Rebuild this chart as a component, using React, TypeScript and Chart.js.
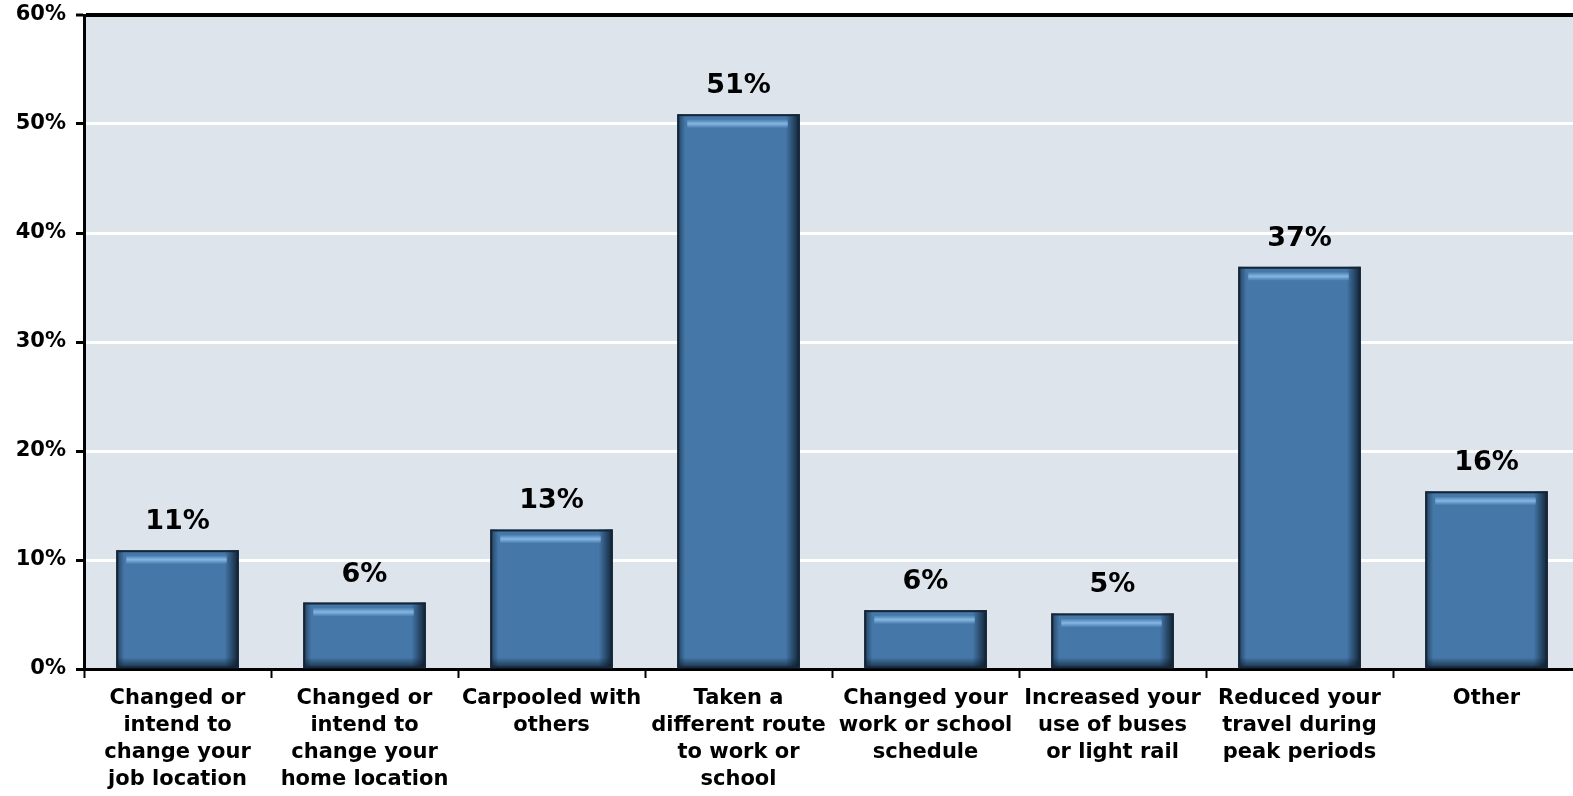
import React, { useEffect, useRef } from "react";
import { Chart, registerables } from "chart.js";

Chart.register(...registerables);

const categories: string[][] = [
  ["Changed or", "intend to", "change your", "job location"],
  ["Changed or", "intend to", "change your", "home location"],
  ["Carpooled with", "others"],
  ["Taken a", "different route", "to work or", "school"],
  ["Changed your", "work or school", "schedule"],
  ["Increased your", "use of buses", "or light rail"],
  ["Reduced your", "travel during", "peak periods"],
  ["Other"],
];
const values: number[] = [10.9, 6.1, 12.8, 50.9, 5.4, 5.1, 36.9, 16.3];
const valueLabels: string[] = ["11%", "6%", "13%", "51%", "6%", "5%", "37%", "16%"];
const yTicks: number[] = [0, 10, 20, 30, 40, 50, 60];

const FONT = "'DejaVu Sans', sans-serif";

const bgPlugin = {
  id: "bgPlugin",
  beforeDraw(chart: any) {
    const { ctx, chartArea } = chart;
    ctx.save();
    ctx.fillStyle = "#dde4ec";
    ctx.fillRect(chartArea.left, chartArea.top, chartArea.right - chartArea.left, chartArea.bottom - chartArea.top);
    ctx.restore();
  },
};

const barStylePlugin = {
  id: "barStylePlugin",
  afterDatasetsDraw(chart: any) {
    const { ctx } = chart;
    const meta = chart.getDatasetMeta(0);
    ctx.save();
    meta.data.forEach((bar: any, i: number) => {
      const w = bar.width;
      const left = bar.x - w / 2;
      const right = bar.x + w / 2;
      const top = bar.y;
      const bottom = bar.base;
      const g = ctx.createLinearGradient(right - 14, 0, right, 0);
      g.addColorStop(0, "rgba(10,25,40,0)");
      g.addColorStop(1, "rgba(10,25,40,0.9)");
      ctx.fillStyle = g;
      ctx.fillRect(right - 14, top, 14, bottom - top);
      const g2 = ctx.createLinearGradient(left, 0, left + 8, 0);
      g2.addColorStop(0, "rgba(10,25,40,0.6)");
      g2.addColorStop(1, "rgba(10,25,40,0)");
      ctx.fillStyle = g2;
      ctx.fillRect(left, top, 8, bottom - top);
      const g3 = ctx.createLinearGradient(0, bottom - 10, 0, bottom);
      g3.addColorStop(0, "rgba(10,25,40,0)");
      g3.addColorStop(1, "rgba(10,25,40,0.7)");
      ctx.fillStyle = g3;
      ctx.fillRect(left, bottom - 10, w, 10);
      const g4 = ctx.createLinearGradient(0, top + 5, 0, top + 14);
      g4.addColorStop(0, "rgba(140,190,235,0)");
      g4.addColorStop(0.5, "rgba(140,190,235,0.9)");
      g4.addColorStop(1, "rgba(140,190,235,0)");
      ctx.fillStyle = g4;
      ctx.fillRect(left + 10, top + 5, w - 22, 9);
      ctx.strokeStyle = "#162636";
      ctx.lineWidth = 2;
      ctx.strokeRect(left + 1, top + 1, w - 2, bottom - top - 1);
      ctx.fillStyle = "#000";
      ctx.font = `bold 27px ${FONT}`;
      ctx.textAlign = "center";
      ctx.textBaseline = "alphabetic";
      ctx.fillText(valueLabels[i], bar.x, top - 21);
    });
    ctx.restore();
  },
};

export default function App() {
  const ref = useRef<HTMLCanvasElement | null>(null);
  useEffect(() => {
    document.body.style.margin = "0";
    document.body.style.overflow = "hidden";
    const chart = new Chart(ref.current as HTMLCanvasElement, {
      type: "bar",
      data: {
        labels: categories,
        datasets: [
          {
            data: values,
            backgroundColor: "#4577a8",
            borderWidth: 0,
            categoryPercentage: 1,
            barPercentage: 0.655,
          },
        ],
      },
      options: {
        animation: false,
        responsive: false,
        maintainAspectRatio: false,
        layout: { padding: { top: 15, right: 0, left: 0, bottom: 0 } },
        plugins: { legend: { display: false }, tooltip: { enabled: false } },
        scales: {
          x: {
            grid: {
              offset: true,
              drawOnChartArea: false,
              drawTicks: true,
              tickLength: 9,
              tickColor: "#000",
              tickWidth: 2,
            },
            border: { display: true, color: "#000", width: 3 },
            ticks: {
              color: "#000",
              font: { family: FONT, size: 21, weight: "bold", lineHeight: 1.28 },
              padding: 7,
              maxRotation: 0,
              autoSkip: false,
            },
            afterFit(scale: any) {
              scale.height = 127;
              scale.paddingLeft = 0;
              scale.paddingRight = 0;
            },
          },
          y: {
            min: 0,
            max: 60,
            afterBuildTicks(scale: any) {
              scale.ticks = yTicks.map((v) => ({ value: v }));
            },
            grid: {
              color: (c: any) => (c.tick && (c.tick.value === 60 || c.tick.value === 0) ? "#000" : "#ffffff"),
              lineWidth: (c: any) => (c.tick && c.tick.value === 60 ? 4 : 3),
              tickColor: "#000",
              tickLength: 8,
              tickWidth: 3,
            },
            border: { display: true, color: "#000", width: 3 },
            ticks: {
              color: "#000",
              font: { family: FONT, size: 21, weight: "bold" },
              padding: 10,
              callback: (v: any) => `${v}%`,
            },
            afterFit(scale: any) {
              scale.width = 84;
              scale.paddingTop = 0;
              scale.paddingBottom = 0;
            },
          },
        },
      },
      plugins: [bgPlugin, barStylePlugin],
    });
    return () => chart.destroy();
  }, []);
  return (
    <div style={{ position: "fixed", left: 0, top: 0, width: 1573, height: 796, overflow: "hidden" }}>
      <canvas ref={ref} width={1580} height={796} style={{ display: "block" }} />
    </div>
  );
}
